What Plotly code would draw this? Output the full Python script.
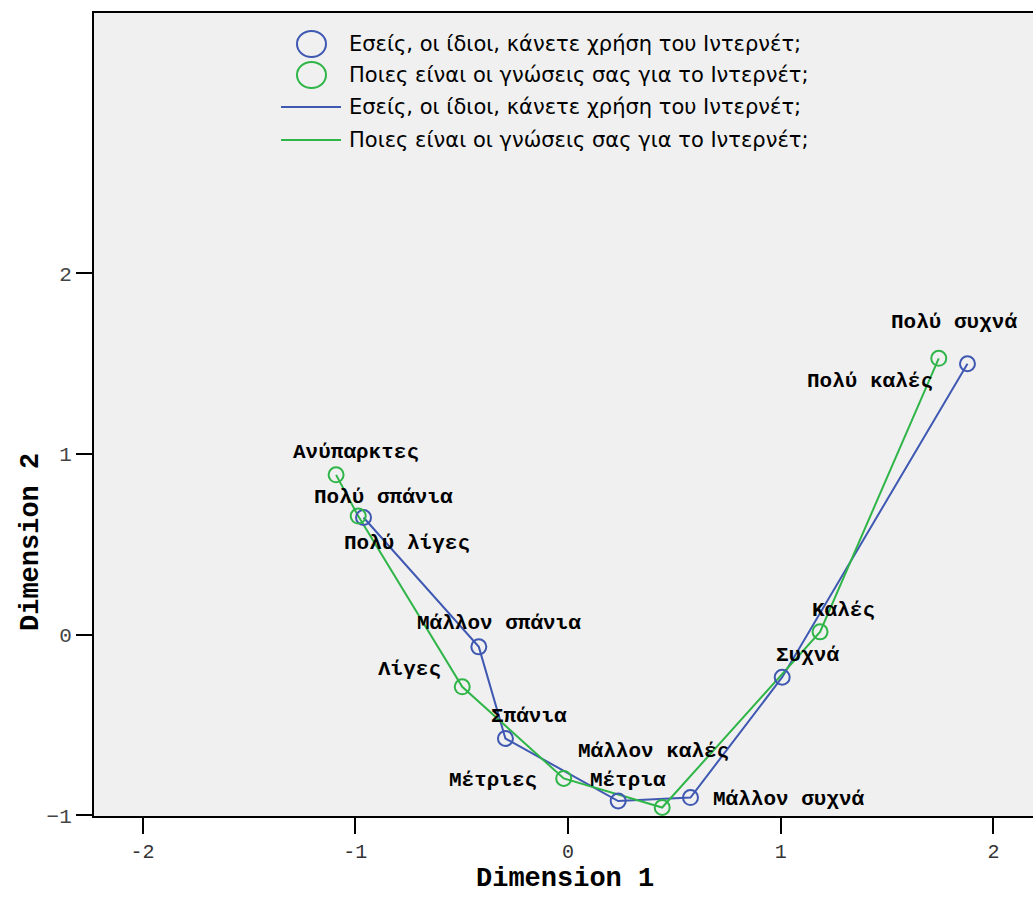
import plotly.graph_objects as go

# ---- data ----
series_names = ["Εσείς, οι ίδιοι, κάνετε χρήση του Ιντερνέτ;",
                "Ποιες είναι οι γνώσεις σας για το Ιντερνέτ;"]

use_cats = ["Πολύ σπάνια", "Μάλλον σπάνια", "Σπάνια", "Μέτρια",
            "Μάλλον συχνά", "Συχνά", "Πολύ συχνά"]
use_x = [-0.961, -0.419, -0.294, 0.236, 0.576, 1.007, 1.878]
use_y = [0.648, -0.068, -0.575, -0.921, -0.902, -0.236, 1.499]

know_cats = ["Ανύπαρκτες", "Πολύ λίγες", "Λίγες", "Μέτριες",
             "Μάλλον καλές", "Καλές", "Πολύ καλές"]
know_x = [-1.090, -0.986, -0.497, -0.020, 0.443, 1.185, 1.743]
know_y = [0.884, 0.656, -0.289, -0.796, -0.957, 0.015, 1.529]

x_ticks = [-2, -1, 0, 1, 2]
x_tick_text = ["-2", "-1", "0", "1", "2"]
y_ticks = [-1, 0, 1, 2]
y_tick_text = ["\u22121", "0", "1", "2"]

x_title = "Dimension 1"
y_title = "Dimension 2"

# ---- style ----
BLUE = "#3F58B2"
GREEN = "#2FB548"
W, H = 1033, 897
ML, MT, MB, MR = 94, 13, 81, 0
PW, PH = W - ML - MR, H - MT - MB

# label offsets in pixels (dx right, dy down) relative to each point
use_offsets = [(20, -20), (20, -23), (24, -22), (10, -21), (98, 2), (25, -22), (-13, -41)]
know_offsets = [(20, -22), (49, 27), (-53, -17), (-71, 2), (-9, -56), (23, -21), (-69, 23)]


def px(xp):
    return (xp - ML) / PW


def py(yp):
    return 1 - (yp - MT) / PH


fig = go.Figure()

for xs, ys, col, nm in [(use_x, use_y, BLUE, series_names[0]),
                        (know_x, know_y, GREEN, series_names[1])]:
    fig.add_trace(go.Scatter(x=xs, y=ys, mode="lines", name=nm,
                             line=dict(color=col, width=2), showlegend=False,
                             cliponaxis=False))
for xs, ys, col, nm in [(use_x, use_y, BLUE, series_names[0]),
                        (know_x, know_y, GREEN, series_names[1])]:
    fig.add_trace(go.Scatter(x=xs, y=ys, mode="markers", name=nm,
                             marker=dict(symbol="circle-open", size=15,
                                         color=col, line=dict(width=2)),
                             showlegend=False, cliponaxis=False))

label_font = dict(family="Liberation Mono, Courier New, monospace", size=21,
                  color="black", weight="bold")
annotations = []
for cats, xs, ys, offs in [(use_cats, use_x, use_y, use_offsets),
                           (know_cats, know_x, know_y, know_offsets)]:
    for c, xv, yv, (dx, dy) in zip(cats, xs, ys, offs):
        annotations.append(dict(x=xv, y=yv, xref="x", yref="y", text=c,
                                showarrow=False, xshift=dx, yshift=-dy,
                                font=label_font, xanchor="center",
                                yanchor="middle"))

# manual legend
legend_font = dict(family="DejaVu Sans, Verdana, sans-serif", size=21, color="black")
shapes = []
leg_rows = [44, 75, 107, 140]
leg_cols = [BLUE, GREEN, BLUE, GREEN]
leg_names = [series_names[0], series_names[1], series_names[0], series_names[1]]
for i, (yr, col, nm) in enumerate(zip(leg_rows, leg_cols, leg_names)):
    if i < 2:
        shapes.append(dict(type="circle", xref="paper", yref="paper",
                           x0=px(297), x1=px(326), y0=py(yr + 13), y1=py(yr - 13),
                           line=dict(color=col, width=2)))
    else:
        shapes.append(dict(type="line", xref="paper", yref="paper",
                           x0=px(281), x1=px(341), y0=py(yr), y1=py(yr),
                           line=dict(color=col, width=2)))
    annotations.append(dict(x=px(347), y=py(yr), xref="paper", yref="paper",
                            text=nm, showarrow=False, xanchor="left",
                            yanchor="middle", font=legend_font))

# axis titles
title_font = dict(family="Liberation Mono, monospace", size=27, color="black", weight="bold")
annotations.append(dict(x=px(565), y=py(879), xref="paper", yref="paper",
                        text=x_title, showarrow=False, xanchor="center",
                        yanchor="middle", font=title_font, borderpad=0))
annotations.append(dict(x=px(31), y=py(542), xref="paper", yref="paper",
                        text=y_title, showarrow=False, xanchor="center",
                        yanchor="middle", textangle=-90, font=title_font))

fig.update_layout(
    width=W, height=H,
    margin=dict(l=ML, r=MR, t=MT, b=MB, pad=0),
    paper_bgcolor="white",
    plot_bgcolor="#F0F0F0",
    showlegend=False,
    shapes=shapes,
    annotations=annotations,
    xaxis=dict(range=[-2.228, 2.186], tickvals=x_ticks, ticktext=x_tick_text,
               automargin=False,
               showgrid=False, zeroline=False, showline=True, mirror=True,
               linecolor="black", linewidth=2, ticks="outside", ticklen=16,
               tickwidth=2, tickcolor="black",
               tickfont=dict(family="Liberation Mono, monospace", size=20, color="#333")),
    yaxis=dict(range=[-1.004, 3.44], tickvals=y_ticks, ticktext=y_tick_text,
               automargin=False,
               showgrid=False, zeroline=False, showline=True,
               linecolor="black", linewidth=2, ticks="outside", ticklen=16,
               tickwidth=2, tickcolor="black",
               tickfont=dict(family="Liberation Mono, monospace", size=21, color="#444")),
)

fig.write_html("out.html", config={"displayModeBar": False},
               post_script="document.body.style.margin='0';document.body.style.overflow='hidden';")
